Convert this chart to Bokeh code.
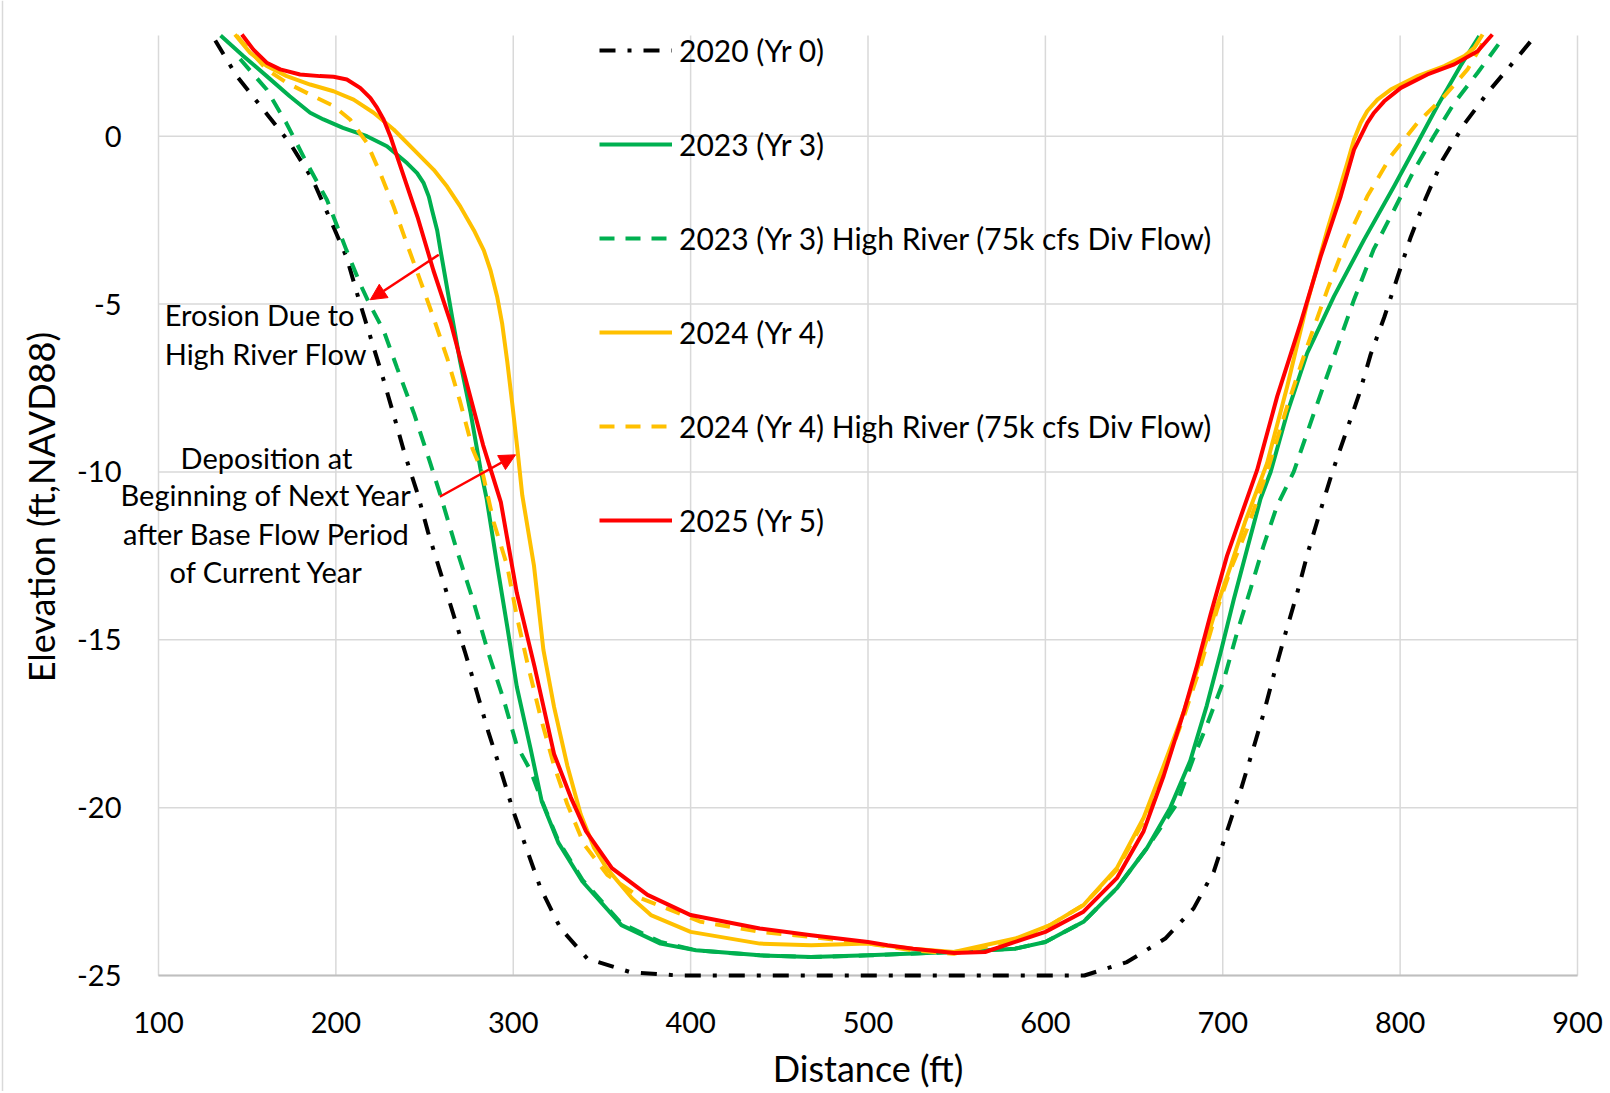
import math
from bokeh.plotting import figure
from bokeh.models import Arrow, NormalHead, Label, Range1d
from bokeh.embed import file_html
from bokeh.resources import INLINE
from bokeh.core.properties import value

# ---------------- data ----------------
x_ticks = [100, 200, 300, 400, 500, 600, 700, 800, 900]
x_tick_labels = ["100", "200", "300", "400", "500", "600", "700", "800", "900"]
y_ticks = [-25, -20, -15, -10, -5, 0]
y_tick_labels = ["-25", "-20", "-15", "-10", "-5", "0"]

yr0_x = [132, 144, 159, 174, 187, 197, 206, 212.6, 219, 226, 232.6, 239, 245.8, 252, 259, 266, 273,
         279.7, 286, 293, 300, 308, 315.4, 326.7, 341.8, 366, 393, 450, 500, 550, 600, 622, 646,
         667.6, 683.6, 695, 702.4, 710, 716.6, 723, 729, 735.4, 742, 748, 754.8, 761.8, 769.3,
         776.8, 783.4, 791, 798.5, 806, 814.5, 824, 836, 850, 866, 876]
yr0_y = [2.85, 1.8, 0.8, -0.2, -1.3, -2.5, -3.6, -4.8, -5.9, -7.1, -8.3, -9.5, -10.6, -11.8, -13.0,
         -14.2, -15.4, -16.6, -17.75, -18.9, -20.1, -21.3, -22.4, -23.6, -24.5, -24.9, -25.0, -25.0,
         -25.0, -25.0, -25.0, -25.0, -24.6, -23.9, -23.0, -21.9, -20.7, -19.5, -18.35, -17.2, -16.0,
         -14.8, -13.6, -12.4, -11.2, -10.0, -8.85, -7.7, -6.5, -5.4, -4.2, -3.0, -1.84, -0.7, 0.35,
         1.34, 2.34, 2.98]

yr3_x = [135, 147.8, 161, 174, 185.5, 193, 204, 217.5, 228.8, 240.1, 245.8, 249.5, 252.4, 254.2,
         257.1, 259, 262.3, 265.6, 270, 276, 281.5, 285, 291, 296.6, 302, 309.8, 316, 325.5, 339,
         361, 383, 403, 439, 468, 500, 548, 583, 600, 621.5, 640.3, 657.3, 670.4, 681.7, 691, 698.7,
         706.2, 713.7, 721.3, 727, 736.3, 747.6, 762.7, 779.7, 796.6, 809.8, 821, 834, 844.6]
yr3_y = [3.0, 2.39, 1.79, 1.19, 0.7, 0.5, 0.25, 0.0, -0.3, -0.8, -1.1, -1.4, -1.8, -2.2, -2.8, -3.4,
         -4.4, -5.4, -6.7, -8.25, -9.9, -10.8, -12.8, -14.6, -16.4, -18.25, -19.8, -21.05, -22.2,
         -23.5, -24.05, -24.25, -24.4, -24.45, -24.4, -24.3, -24.2, -24.0, -23.4, -22.4, -21.2,
         -20.0, -18.6, -16.96, -15.4, -13.8, -12.3, -10.8, -10.0, -8.25, -6.46, -4.77, -3.08, -1.49,
         -0.2, 0.9, 2.09, 2.98]

yr3hr_x = [146, 161, 172, 183.6, 195, 206, 213.7, 219, 227, 234.5, 244, 253, 259, 268, 277.8, 286,
           294.7, 302, 309.8, 315.4, 325.5, 339, 361, 383, 403, 439, 468, 500, 548, 583, 600,
           621.5, 640.3, 657.3, 674, 683.6, 691, 700.6, 708, 715.6, 723, 730.7, 740, 751.4, 762.7,
           774, 785, 796.6, 808, 819, 830.5, 843.7, 858.8]
yr3hr_y = [2.3, 1.39, 0.4, -0.8, -1.9, -3.4, -4.4, -5.0, -5.8, -6.9, -8.25, -9.7, -10.7, -12.3, -13.9,
           -15.4, -16.8, -18.15, -18.9, -19.7, -21.0, -22.15, -23.45, -24.0, -24.25, -24.4, -24.45,
           -24.4, -24.3, -24.2, -24.0, -23.4, -22.4, -21.2, -19.9, -18.5, -17.55, -16.2, -14.8, -13.5,
           -12.2, -11.0, -10.0, -8.25, -6.56, -4.87, -3.38, -2.19, -1.0, 0.0, 0.99, 1.89, 2.98]

yr4_x = [143.1, 151.6, 161, 172.3, 185.5, 198.7, 210, 221.3, 232.6, 243.9, 255.2, 262.7, 270.2, 277.8,
         283.4, 287.2, 291, 293.8, 296.6, 299.4, 302.3, 305.1, 311.7, 317, 323, 330.5, 338, 345.6,
         352.6, 367, 377.6, 400, 439, 468, 500, 525, 548.5, 583, 602.6, 621.5, 640.3, 655.4, 666.7,
         678, 687.4, 696.8, 704.5, 712.5, 725, 736.3, 747.6, 759, 770.2, 774, 777.8, 781.5, 787.2,
         794.7, 809.8, 824.9, 836.2, 841.8, 846.5]
yr4_y = [3.03, 2.49, 2.09, 1.79, 1.54, 1.34, 1.09, 0.7, 0.2, -0.4, -1.0, -1.5, -2.1, -2.8, -3.4, -4.0,
         -4.8, -5.6, -6.7, -7.95, -9.3, -10.7, -12.8, -15.3, -17.0, -18.75, -20.2, -21.2, -21.8,
         -22.7, -23.2, -23.7, -24.05, -24.1, -24.05, -24.2, -24.3, -23.9, -23.5, -22.9, -21.8,
         -20.3, -18.75, -17.15, -15.6, -13.98, -12.8, -11.5, -9.74, -7.46, -4.97, -2.78, -0.8,
         -0.1, 0.4, 0.75, 1.09, 1.39, 1.79, 2.09, 2.39, 2.63, 3.03]

yr4hr_x = [144, 161, 172, 187, 198.7, 208, 217.5, 225, 232.6, 240, 247.6, 255, 262.7, 270, 277, 282.6,
           289, 296.6, 302, 308, 315.4, 323, 330.5, 340, 353, 372, 405.8, 439, 468, 500, 525, 548.5,
           583, 602.6, 621.5, 640.3, 655.4, 666.7, 678, 687.4, 696.8, 704.5, 713.7, 725, 736.3, 747.6,
           759, 770, 781.5, 794.7, 809.8, 824.9, 838, 845.6, 848]
yr4hr_y = [3.0, 1.99, 1.6, 1.2, 0.9, 0.5, -0.2, -1.1, -2.1, -3.2, -4.3, -5.4, -6.6, -7.9, -9.3, -10.0,
           -11.5, -12.8, -14.3, -15.7, -17.3, -18.75, -19.9, -21.1, -22.0, -22.7, -23.4, -23.7,
           -23.85, -24.05, -24.25, -24.35, -23.95, -23.5, -22.9, -21.85, -20.4, -18.9, -17.3, -15.8,
           -14.1, -12.9, -11.7, -10.0, -8.05, -6.26, -4.57, -3.08, -1.79, -0.6, 0.4, 1.19, 1.99,
           2.68, 3.0]

yr5_x = [147, 153.5, 161, 168.6, 179.8, 191, 198.7, 206.2, 213.7, 219.4, 223.2, 226.9, 230.7, 234.5,
         246, 255, 265, 274, 283, 287.7, 293, 302, 312, 323, 332.5, 341, 355.6, 375.7, 400, 439, 468,
         500, 511, 525.5, 548.5, 566, 583, 600, 621.5, 640.3, 655.4, 666.7, 678, 685.5, 693, 702.4,
         709, 719.4, 730.7, 743.9, 755.2, 766.5, 774, 777.8, 781.5, 785.3, 791, 800.4, 815.4, 830.5,
         843.7, 852]
yr5_y = [3.03, 2.58, 2.19, 1.99, 1.84, 1.79, 1.77, 1.69, 1.44, 1.14, 0.85, 0.5, 0.0, -0.6, -2.4, -4.0,
         -5.6, -7.4, -9.2, -10.0, -10.9, -13.6, -15.8, -18.4, -19.7, -20.7, -21.8, -22.6, -23.2,
         -23.6, -23.8, -24.0, -24.1, -24.2, -24.33, -24.3, -24.0, -23.7, -23.1, -22.1, -20.7, -19.05,
         -17.15, -15.77, -14.27, -12.5, -11.5, -9.94, -7.75, -5.57, -3.58, -1.79, -0.4, 0.0, 0.4,
         0.7, 1.04, 1.44, 1.84, 2.14, 2.53, 3.03]

series_names = ["2020 (Yr 0)", "2023 (Yr 3)", "2023 (Yr 3) High River (75k cfs Div Flow)",
                "2024 (Yr 4)", "2024 (Yr 4) High River (75k cfs Div Flow)", "2025 (Yr 5)"]

erosion_lines = ["Erosion Due to", "High River Flow"]
deposition_lines = ["Deposition at", "Beginning of Next Year", "after Base Flow Period",
                    "of Current Year"]

# ---------------- layout constants ----------------
FONT = "Lato"
W, H = 1605, 1091
X_MIN, X_MAX, Y_MIN, Y_MAX = 100, 900, -25, 3
PLOT_L, PLOT_R, PLOT_T, PLOT_B = 158, 1577, 35, 975      # plot area in canvas pixels
SX = (PLOT_R - PLOT_L) / (X_MAX - X_MIN)                   # px per ft
SY = (PLOT_B - PLOT_T) / (Y_MAX - Y_MIN)                   # px per ft of elevation

# the frame covers the whole canvas; the plot area is the [100,900]x[-25,3] window inside it
x_lo = X_MIN - PLOT_L / SX
x_hi = X_MAX + (W - PLOT_R) / SX
y_hi = Y_MAX + PLOT_T / SY
y_lo = Y_MIN - (H - PLOT_B) / SY

p = figure(width=W, height=H, output_backend="svg", toolbar_location=None,
           x_range=Range1d(x_lo, x_hi), y_range=Range1d(y_lo, y_hi),
           x_axis_location=None, y_axis_location=None,
           min_border_left=0, min_border_right=0, min_border_top=0, min_border_bottom=0)
p.outline_line_color = None
p.background_fill_color = "white"
p.border_fill_color = "white"
p.grid.visible = False

GRID = "#D9D9D9"
nx, ny = len(x_ticks), len(y_ticks)
# chart-area left border (as in the Excel export)
p.segment(x0=[x_lo + 2 / SX], y0=[y_lo], x1=[x_lo + 2 / SX], y1=[y_hi], line_color=GRID, line_width=1.5)
# grid lines
p.segment(x0=x_ticks, y0=[Y_MIN] * nx, x1=x_ticks, y1=[Y_MAX] * nx, line_color=GRID, line_width=1.5)
p.segment(x0=[X_MIN] * ny, y0=y_ticks, x1=[X_MAX] * ny, y1=y_ticks, line_color=GRID, line_width=1.5)
# horizontal axis line
p.segment(x0=[X_MIN], y0=[Y_MIN], x1=[X_MAX], y1=[Y_MIN], line_color="#BFBFBF", line_width=2)

# tick labels and axis titles
p.text(x=[X_MIN - 37 / SX] * ny, y=y_ticks, text=y_tick_labels, text_font=value(FONT),
       text_font_size=value("29px"), text_align="right", text_baseline="middle", text_color="black")
p.text(x=x_ticks, y=[Y_MIN - 47 / SY] * nx, text=x_tick_labels, text_font=value(FONT),
       text_font_size=value("29px"), text_align="center", text_baseline="middle", text_color="black")
p.text(x=[X_MIN - 118 / SX], y=[-11.05], text=["Elevation (ft,NAVD88)"], angle=math.pi / 2,
       text_font=value(FONT), text_font_size=value("36px"), text_align="center",
       text_baseline="middle", text_color="black")
p.text(x=[(X_MIN + X_MAX) / 2], y=[Y_MIN - 92 / SY], text=["Distance (ft)"],
       text_font=value(FONT), text_font_size=value("36px"), text_align="center",
       text_baseline="middle", text_color="black")

LW = 4
p.line(yr0_x, yr0_y, line_color="black", line_width=LW, line_dash="16 12 4 12",
       legend_label=series_names[0])
p.line(yr3_x, yr3_y, line_color="#00B050", line_width=LW, line_join="round",
       legend_label=series_names[1])
p.line(yr3hr_x, yr3hr_y, line_color="#00B050", line_width=LW, line_dash="15 11",
       legend_label=series_names[2])
p.line(yr4_x, yr4_y, line_color="#FFC000", line_width=LW, line_join="round",
       legend_label=series_names[3])
p.line(yr4hr_x, yr4hr_y, line_color="#FFC000", line_width=LW, line_dash="15 11",
       legend_label=series_names[4])
p.line(yr5_x, yr5_y, line_color="#FF0000", line_width=LW, line_join="round",
       legend_label=series_names[5])

lg = p.legend[0]
lg.location = (599, H - 540)
lg.padding = 0
lg.margin = 0
lg.spacing = 54
lg.glyph_width = 73
lg.glyph_height = 40
lg.label_height = 40
lg.label_standoff = 7
lg.label_text_font = FONT
lg.label_text_font_size = "30px"
lg.label_text_color = "black"
lg.background_fill_alpha = 0
lg.border_line_color = None

# annotations
for txt, yb in zip(erosion_lines, [-5.31, -6.47]):
    p.add_layout(Label(x=103.5, y=yb, text=txt, text_font=FONT, text_font_size="29px",
                       text_align="left", text_baseline="alphabetic", text_color="black"))
for txt, yb in zip(deposition_lines, [-9.57, -10.68, -11.82, -12.98]):
    p.add_layout(Label(x=160.9, y=yb, text=txt, text_font=FONT, text_font_size="29px",
                       text_align="center", text_baseline="alphabetic", text_color="black"))

p.add_layout(Arrow(end=NormalHead(size=16, fill_color="#FF0000", line_color="#FF0000"),
                   x_start=258.0, y_start=-3.53, x_end=219.4, y_end=-4.87,
                   line_color="#FF0000", line_width=2.5))
p.add_layout(Arrow(end=NormalHead(size=16, fill_color="#FF0000", line_color="#FF0000"),
                   x_start=258.6, y_start=-10.74, x_end=301.3, y_end=-9.49,
                   line_color="#FF0000", line_width=2.5))

open("out.html", "w").write(file_html(p, INLINE))
